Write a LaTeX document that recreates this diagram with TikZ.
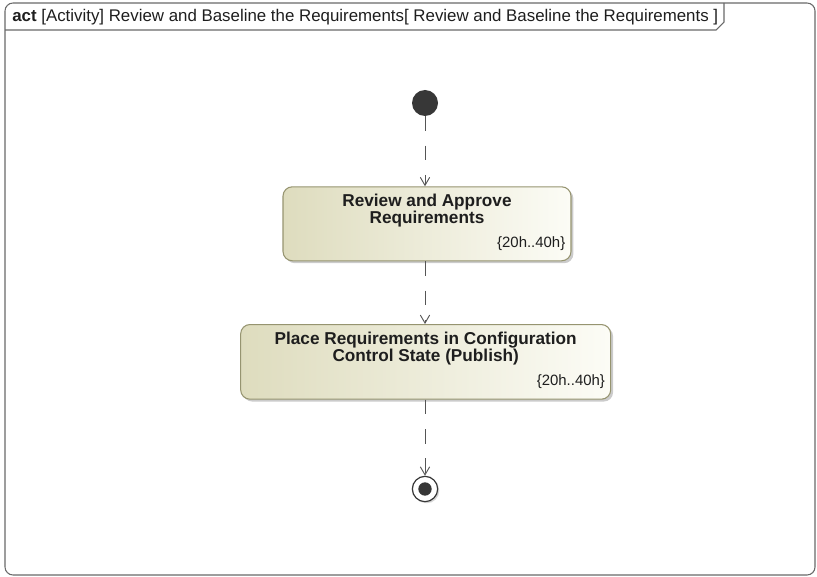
\documentclass[tikz,border=0pt]{standalone}
\usepackage{fontspec}
\setmainfont{Liberation Sans}
\definecolor{frameGray}{RGB}{105,105,105}
\definecolor{flowGray}{RGB}{85,85,85}
\definecolor{nodeDark}{RGB}{55,55,55}
\definecolor{textDark}{RGB}{30,30,30}
\definecolor{actBorder}{RGB}{150,148,112}
\definecolor{actDark}{RGB}{222,220,190}
\definecolor{actLight}{RGB}{252,252,246}
\usepackage{tikz}
\usetikzlibrary{positioning,shadows,arrows.meta}

\begin{document}
\begin{tikzpicture}[
                x=0.75pt,y=-0.75pt,
                action/.style={draw=actBorder,line width=0.8pt,rounded corners=7pt,
                               left color=actDark,right color=actLight,
                               drop shadow={shadow xshift=1.8pt,shadow yshift=-1.8pt,
                                            fill=black!45,opacity=0.45}},
                acttitle/.style={font=\bfseries\fontsize{12.9}{12.75}\selectfont,text=textDark,
                                 align=center,inner sep=0pt},
                duration/.style={font=\fontsize{11.2}{13}\selectfont,text=textDark,inner sep=0pt},
                flow/.style={draw=flowGray,line width=0.7pt,dash pattern=on 11pt off 11pt,
                             -{Straight Barb[length=6pt,width=7pt]}},
                node distance=50pt
            ]
                \useasboundingbox (0,0) rectangle (817,577);

                % diagram frame and its name tab
                \draw[frameGray,line width=0.8pt,rounded corners=6pt] (5,3) rectangle (815,575);
                \draw[frameGray,line width=0.8pt] (5,30) -- (716,30) -- (724,22) -- (724,3);
                \node[anchor=base west,inner sep=0pt,text=textDark,font=\fontsize{12.65}{14}\selectfont] (frametitle) at (12,22)
                    {\textbf{act} [Activity] Review and Baseline the Requirements[ Review and Baseline the Requirements ]};

                % control nodes and actions
                \node[circle,fill=nodeDark,minimum size=19.5pt,inner sep=0pt] (init) at (425,103) {};
                \node[action,minimum width=216pt,minimum height=55.5pt,below=52.5pt of init,xshift=1.5pt] (review) {};
                \node[acttitle,below=6pt of review.north] (reviewtitle) {Review and Approve\\Requirements};
                \node[duration,anchor=south east] (reviewdur) at ([xshift=-4.5pt,yshift=8pt]review.south east) {\{20h..40h\}};

                \node[action,minimum width=277.5pt,minimum height=56pt,below=47pt of review,xshift=-1pt] (publish) {};
                \node[acttitle,below=6pt of publish.north] (publishtitle) {Place Requirements in Configuration\\Control State (Publish)};
                \node[duration,anchor=south east] (publishdur) at ([xshift=-4.5pt,yshift=8pt]publish.south east) {\{20h..40h\}};

                \node[circle,draw=nodeDark,line width=0.9pt,fill=white,minimum size=19pt,inner sep=0pt,
                      drop shadow={shadow xshift=1.2pt,shadow yshift=-1.2pt,fill=black!40,opacity=0.4},
                      below=57pt of publish,xshift=-0.5pt] (final) {};
                \node[circle,fill=nodeDark,minimum size=10pt,inner sep=0pt] (finaldot) at (final) {};

                % control flows
                \draw[flow] (init) -- (review.north -| init);
                \draw[flow] (review.south -| init) -- (publish.north -| init);
                \draw[flow] (publish.south -| init) -- (final);
            \end{tikzpicture}
\end{document}
